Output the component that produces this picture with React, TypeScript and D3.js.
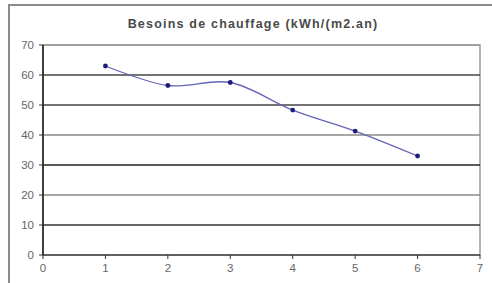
import React from "react";
import * as d3 from "d3";

// Besoins de chauffage par étape
const steps = [1, 2, 3, 4, 5, 6];
const besoins = [63, 56.5, 57.5, 48.3, 41.3, 33];
const yTicks = [0, 10, 20, 30, 40, 50, 60, 70];
const xTicks = [0, 1, 2, 3, 4, 5, 6, 7];
const gridShade = ["#333", "#333", "#8a8a8a", "#222", "#8a8a8a", "#444", "#444", "#9a9a9a"];

const W = 492;
const H = 283;
const left = 43;
const right = 480;
const top = 45;
const bottom = 255;

export default function App() {
  const x = d3.scaleLinear().domain([0, 7]).range([left, right]);
  const y = d3.scaleLinear().domain([0, 70]).range([bottom, top]);
  const line = d3
    .line<number>()
    .x((_, i) => x(steps[i]))
    .y((d) => y(d))
    .curve(d3.curveCatmullRom.alpha(0.5));

  return (
    <svg
      width={W}
      height={H}
      style={{ position: "absolute", left: 0, top: 0, background: "#fff" }}
      fontFamily="Liberation Sans, Arial, sans-serif"
    >
      {/* outer chart frame */}
      <rect x={9} y={5} width={W} height={H} fill="none" stroke="#8c8c8c" strokeWidth={2} />
      <text x={253} y={28} textAnchor="middle" fontSize={12.5} fontWeight="bold" fill="#4a4a4a" letterSpacing={1.2}>
        Besoins de chauffage (kWh/(m2.an)
      </text>

      {/* plot area */}
      <rect x={left} y={top} width={right - left} height={bottom - top} fill="#fff" stroke="#9a9a9a" strokeWidth={1.5} />
      {yTicks.map((t, i) => (
        <g key={t}>
          {t > 0 && (
            <line x1={left} x2={right} y1={y(t)} y2={y(t)} stroke={gridShade[i]} strokeWidth={1.6} />
          )}
          <line x1={left - 4} x2={left} y1={y(t)} y2={y(t)} stroke="#333" />
          <text x={34} y={y(t) + 4} textAnchor="end" fontSize={11.5} fill="#666">
            {t}
          </text>
        </g>
      ))}
      <line x1={left} x2={left} y1={top} y2={bottom} stroke="#222" strokeWidth={1.6} />
      <line x1={left} x2={right} y1={bottom} y2={bottom} stroke="#444" strokeWidth={1.6} />
      {xTicks.map((t) => (
        <g key={t}>
          <line x1={x(t)} x2={x(t)} y1={bottom} y2={bottom + 4} stroke="#333" />
          <text x={x(t)} y={bottom + 17} textAnchor="middle" fontSize={11.5} fill="#666">
            {t}
          </text>
        </g>
      ))}

      <path d={line(besoins) ?? ""} fill="none" stroke="#6464b8" strokeWidth={1.3} />
      {besoins.map((v, i) => (
        <circle key={i} cx={x(steps[i])} cy={y(v)} r={2.4} fill="#1c1c7c" />
      ))}
    </svg>
  );
}
